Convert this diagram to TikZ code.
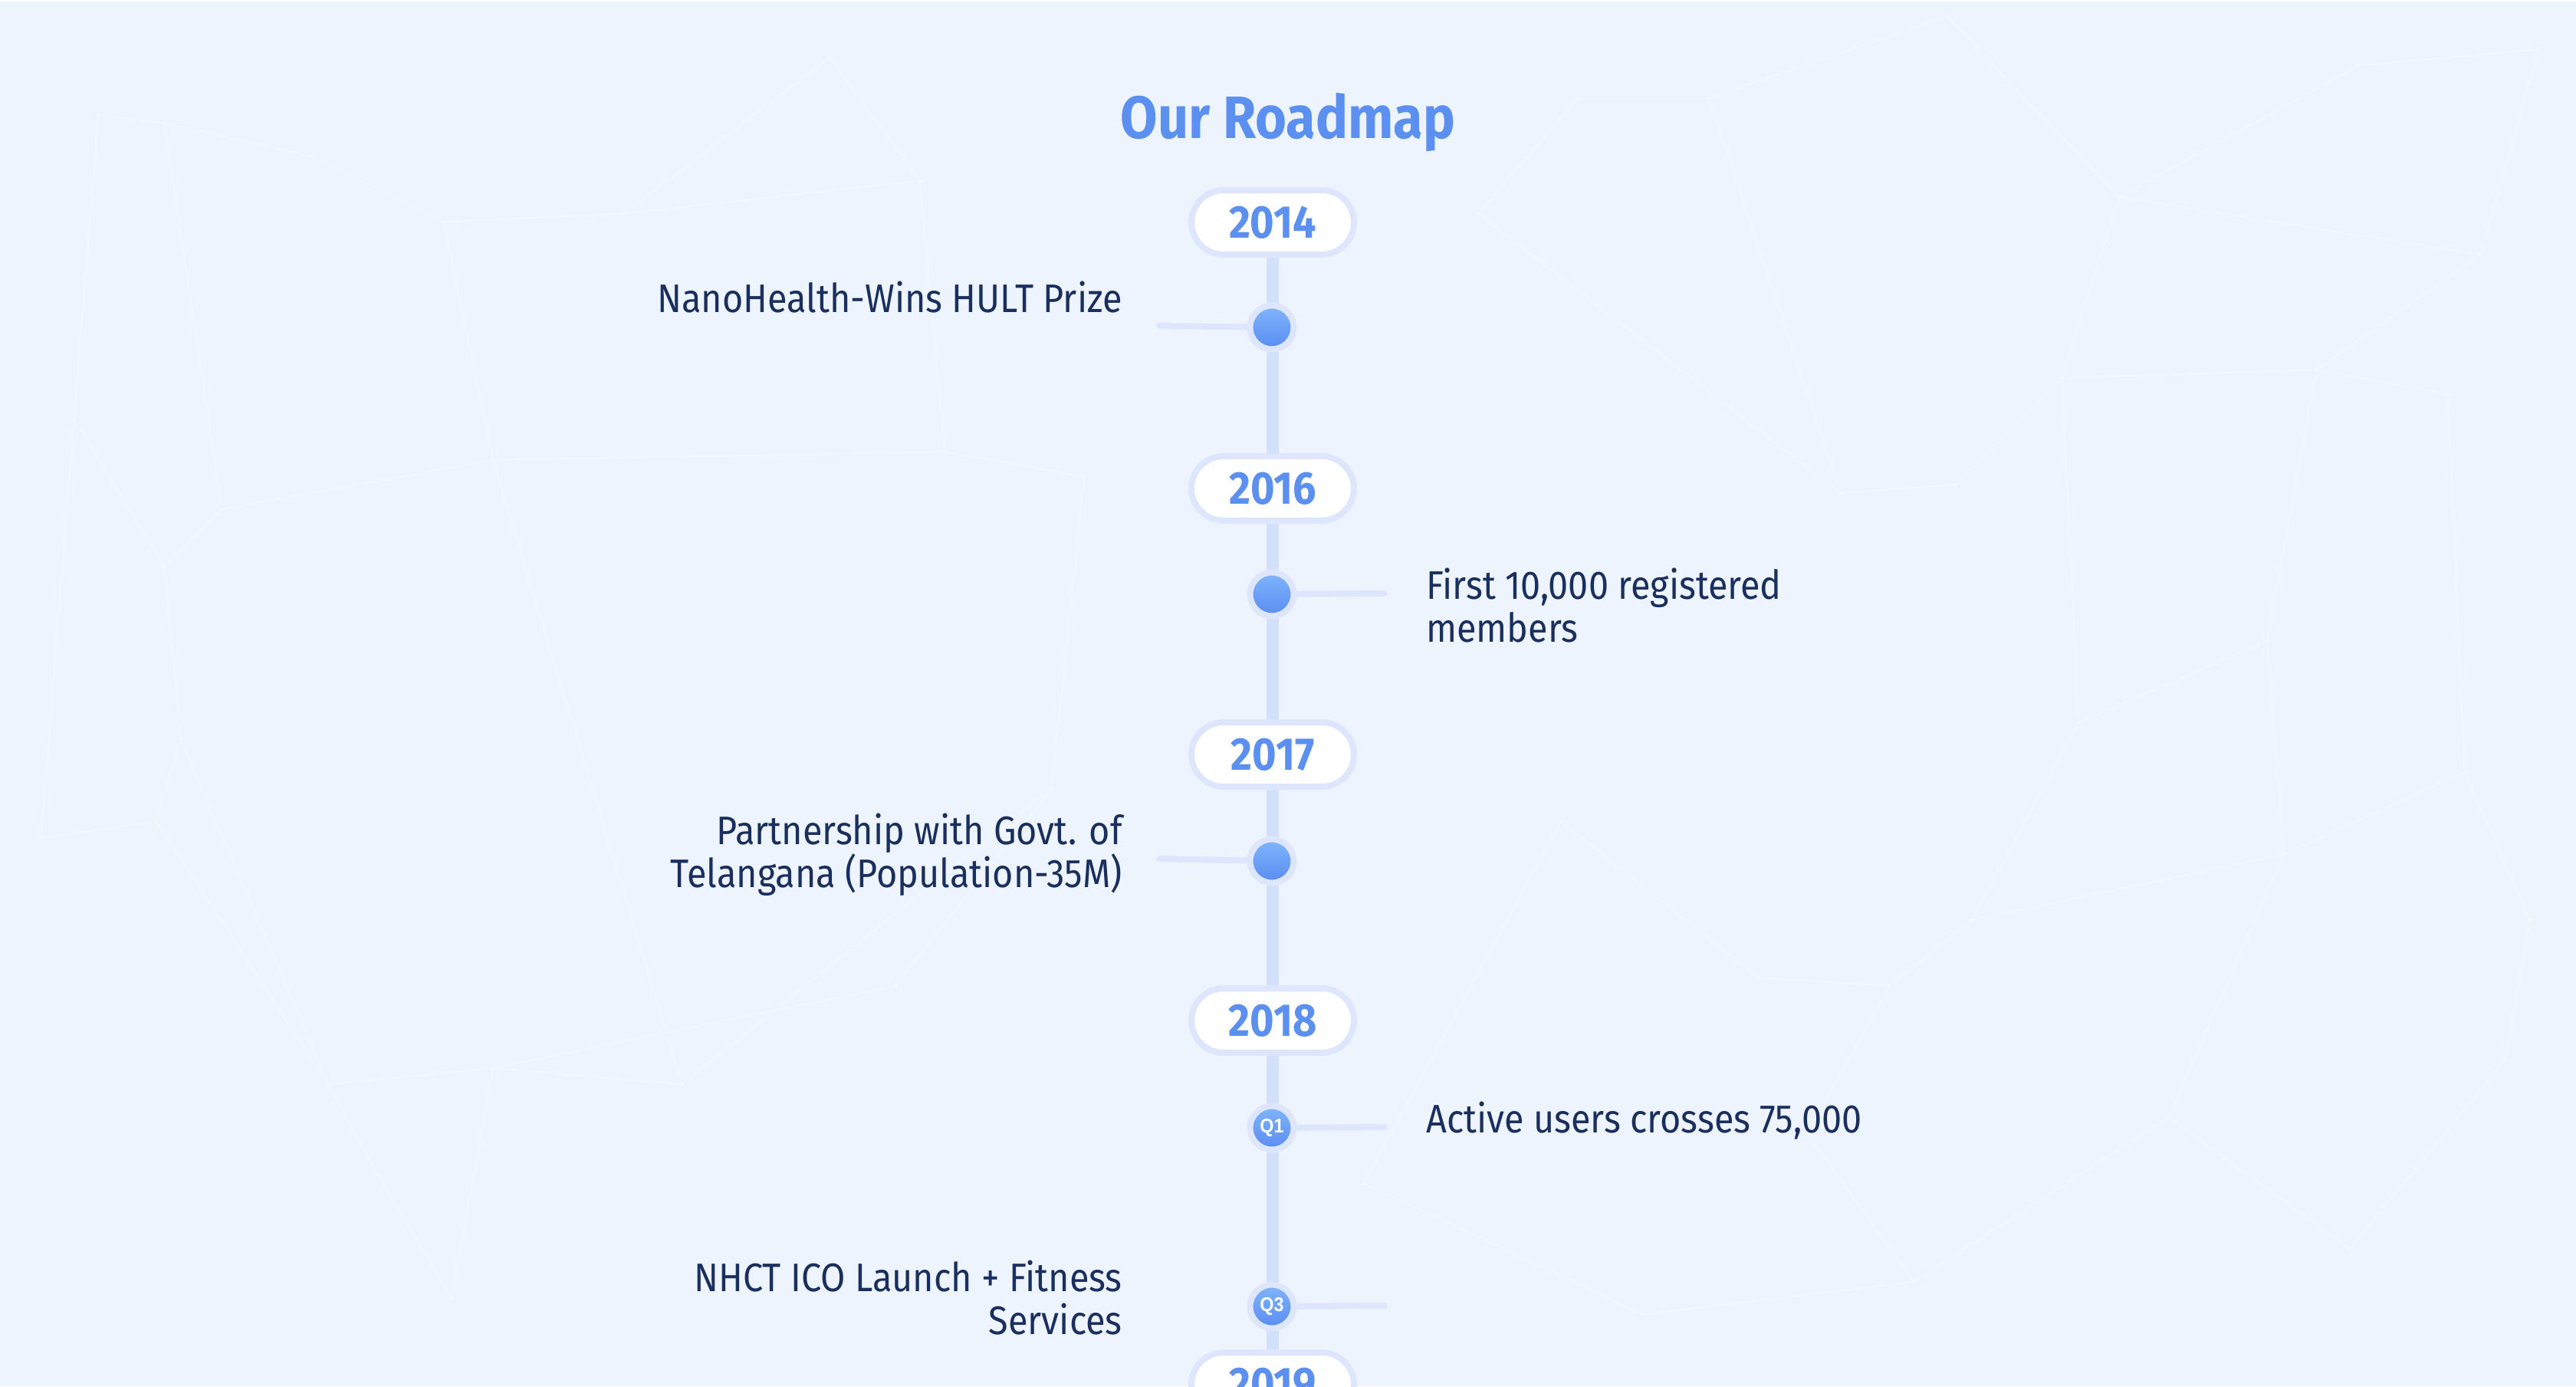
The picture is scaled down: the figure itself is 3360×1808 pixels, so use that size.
\documentclass[tikz,border=0pt]{standalone}
\usepackage{fontspec}
\setmainfont{Fira Sans}[FakeStretch=0.90]
\newfontfamily\qfont{Liberation Sans}[FakeStretch=0.9]
\definecolor{bgc}{HTML}{EDF4FE}
\definecolor{accent}{HTML}{5B8FF0}
\definecolor{ringc}{HTML}{DDE6FC}
\definecolor{spinec}{HTML}{D3E0FA}
\definecolor{ink}{HTML}{1B2F5E}
\definecolor{dottop}{HTML}{80B5FC}
\definecolor{dotbot}{HTML}{5A8CF1}
\pgfdeclarelayer{back}
\pgfdeclarelayer{mid}
\pgfsetlayers{back,mid,main}
\tikzset{
  pill/.style={draw=ringc, line width=8pt, fill=white, rounded corners=42pt,
    minimum width=212pt, minimum height=84pt, inner sep=0pt, text=accent,
    font=\fontsize{60}{62}\selectfont\bfseries},
  titlestyle/.style={text=accent, inner sep=0pt, font=\fontsize{78}{80}\selectfont\bfseries},
  dotnode/.style={circle, draw=ringc, line width=8pt, minimum size=57pt, inner sep=0pt,
    top color=dottop, bottom color=dotbot, text=white,
    font=\qfont\fontsize{26}{26}\selectfont\bfseries},
  spine/.style={draw=spinec, line width=16pt},
  conn/.style={draw=ringc, line width=8pt, line cap=round},
  txt/.style={text=ink, inner sep=0pt, font=\fontsize{52}{56}\selectfont},
  netline/.style={draw=white, line width=1.8pt, opacity=0.3},
  netdot/.style={fill=white, opacity=0.45},
}
\begin{document}
\begin{tikzpicture}[x=1pt,y=-1pt]
\useasboundingbox (0,0) rectangle (3360,1808);
\begin{pgfonlayer}{back}
\fill[bgc] (0,0) rectangle (3360,1808);
\fill[white] (0,0) rectangle (3360,2);
\begin{scope}[x=2.143pt,y=-2.143pt]
\foreach \n/\px/\py in {A/60/70,B/100/75,C/190/95,D/270/135,E/380/130,F/300/280,G/135/310,H/100/345,I/45/255,J/95/500,K/110/450,L/25/510,M/200/660,N/300/650,O/415/660,P/230/715,Q/275/790,R/560/110,S/505/35,T/575/275,U/660/290,V/640/480,W/545/600,X/1040/60,Y/1185/10,Z/1290/120,a/1510/155,b/1435/40,c/1545/30,d/1255/230,e/1410/225,f/1490/240,g/1380/390,h/1265/440,i/1200/560,j/1150/600,k/1070/595,l/1390/520,m/1500/470,n/1540/560,o/1525/645,p/1430/760,q/1320/680,r/1100/690,s/950/500,t/1165/780,u/1000/800,v/830/720,w/900/130,x/960/60,y/1190/295,z/1120/300}
  {\coordinate (n\n) at (\px,\py);}
\foreach \p/\q in {A/B,B/C,C/D,D/E,A/I,B/G,G/H,H/I,G/F,F/D,E/R,R/S,S/E,R/T,T/U,T/F,H/K,K/J,J/L,L/I,K/M,J/M,M/N,N/O,O/V,V/W,W/N,M/P,P/Q,N/Q,F/O,U/V,w/x,x/X,X/Y,Y/Z,Z/b,b/c,c/a,a/Z,Z/d,d/e,e/a,e/f,f/m,d/y,y/z,z/X,d/h,h/g,g/e,g/l,l/m,m/n,n/o,o/p,p/q,q/l,h/i,i/j,j/k,k/s,s/v,v/u,u/t,t/r,r/j,q/t,i/l,w/z}
  {\draw[netline] (n\p) -- (n\q);}
\foreach \n in {A,B,C,D,E,F,G,H,I,J,K,L,M,N,O,P,Q,R,S,T,U,V,W,X,Y,Z,a,b,c,d,e,f,g,h,i,j,k,l,m,n,o,p,q,r,s,t,u,v,w,x,y,z}
  {\fill[netdot] (n\n) circle (2.2pt);}
\end{scope}
\end{pgfonlayer}
\node[titlestyle, anchor=base] (title) at (1680,180) {Our Roadmap};
\node[pill] (y2014) at (1660,290) {2014};
\node[pill] (y2016) at (1660,637) {2016};
\node[pill] (y2017) at (1660,984) {2017};
\node[pill] (y2018) at (1660,1331) {2018};
\node[pill] (y2019) at (1660,1806) {2019};
\node[dotnode] (d2014) at (1659,427) {};
\node[dotnode] (d2016) at (1659,775) {};
\node[dotnode] (d2017) at (1659,1123) {};
\node[dotnode] (dq1) at (1659,1471) {Q1};
\node[dotnode] (dq3) at (1659,1704) {Q3};
\coordinate (e2014) at (1512,425);
\coordinate (e2016) at (1806,774);
\coordinate (e2017) at (1512,1120);
\coordinate (eq1) at (1806,1470);
\coordinate (eq3) at (1806,1703);
\begin{pgfonlayer}{mid}
\draw[spine] (y2014.center) -- (y2019.center);
\draw[conn] (e2014) -- (d2014.center);
\draw[conn] (d2016.center) -- (e2016);
\draw[conn] (e2017) -- (d2017.center);
\draw[conn] (dq1.center) -- (eq1);
\draw[conn] (dq3.center) -- (eq3);
\end{pgfonlayer}
\node[txt, anchor=base east] (t2014) at (1464,407) {NanoHealth-Wins HULT Prize};
\node[txt, anchor=base west, align=left] (t2016) at (1860,837) {First 10,000 registered\\members};
\node[txt, anchor=base east, align=right] (t2017) at (1464,1157) {Partnership with Govt. of\\Telangana (Population-35M)};
\node[txt, anchor=base west] (tq1) at (1860,1477) {Active users crosses 75,000};
\node[txt, anchor=base east, align=right] (tq3) at (1464,1740) {NHCT ICO Launch + Fitness\\Services};
\end{tikzpicture}
\end{document}
